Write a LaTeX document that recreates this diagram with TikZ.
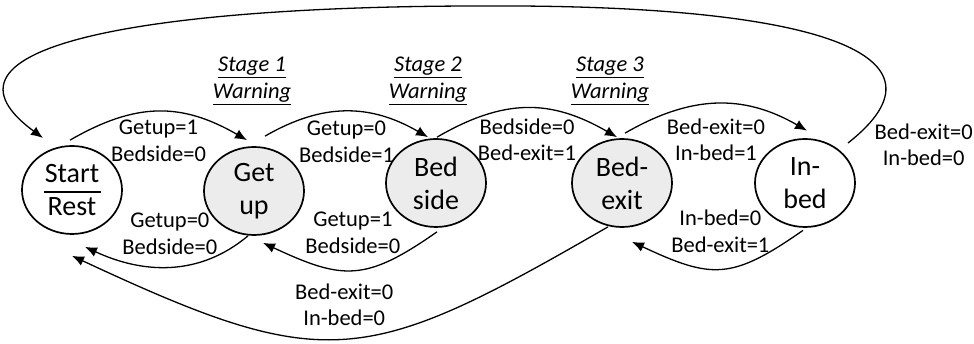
\documentclass[tikz,border=0pt]{standalone}
\usepackage{fontspec}
\setmainfont{Carlito}
\usetikzlibrary{shapes.geometric,arrows.meta}

\begin{document}
\begin{tikzpicture}[x=1pt,y=1pt]
    \tikzstyle{state}=[ellipse, draw, line width=1.7pt, minimum width=100pt, minimum height=88pt, inner sep=0pt, align=center, font=\fontsize{28}{33}\selectfont]
    \tikzstyle{alarm}=[state, fill=gray!15]
    \tikzstyle{cond}=[align=center, inner sep=0pt, font=\fontsize{22.5}{26.5}\selectfont]
    \tikzstyle{stage}=[align=center, inner sep=0pt, font=\itshape\fontsize{22.5}{27}\selectfont]
    \tikzstyle{trans}=[line width=1.3pt, -{Latex[length=12pt,width=10pt]}]
    \useasboundingbox (0,0) rectangle (974,344);

    % states
    \node[state] (start)   at (72, 154)  {Start\\Rest};
    \node[alarm] (getup)   at (254, 153) {Get\\up};
    \node[alarm] (bedside) at (436, 161) {Bed\\side};
    \node[alarm] (bedexit) at (622, 161) {Bed-\\exit};
    \node[state] (inbed)   at (805, 161) {In-\\bed};
    \draw[line width=1.7pt] ([shift={(-28,-2)}]start.center) -- ([shift={(29,-2)}]start.center);

    % warning stages
    \node[stage] (stage1) at (252, 263) {\underline{Stage 1}\\\underline{Warning}};
    \node[stage] (stage2) at (428, 263) {\underline{Stage 2}\\\underline{Warning}};
    \node[stage] (stage3) at (610, 263) {\underline{Stage 3}\\\underline{Warning}};

    % transitions
    \draw[trans] ([shift={(-2,5)}]start.north) to[out=30, in=150, looseness=1.1]
        node[cond, midway, below=8pt] {Getup=1\\Bedside=0} ([shift={(-7,6)}]getup.north);
    \draw[trans] ([shift={(-6,0)}]getup.south) to[out=-140, in=-25, looseness=1.0]
        node[cond, midway, above=12pt] {Getup=0\\Bedside=0} ([shift={(13,-12)}]start.south);
    \draw[trans] ([shift={(11,10)}]getup.north) to[out=30, in=150, looseness=1.05]
        node[cond, midway, below=9pt] {Getup=0\\Bedside=1} ([shift={(-8,1)}]bedside.north);
    \draw[trans] ([shift={(1,-4)}]bedside.south) to[out=-145, in=-25, looseness=1.29]
        node[cond, midway, above=16pt] {Getup=1\\Bedside=0} ([shift={(9,-7)}]getup.south);
    \draw[trans] ([shift={(1,1)}]bedside.north) to[out=30, in=150, looseness=1.1]
        node[cond, midway, below=10pt] {Bedside=0\\Bed-exit=1} ([shift={(-5,1)}]bedexit.north);
    \draw[trans] ([shift={(3,5)}]bedexit.north) to[out=30, in=150, looseness=1.05]
        node[cond, midway, below=14pt] {Bed-exit=0\\In-bed=1} ([shift={(2,7.5)}]inbed.north);
    \draw[trans] ([shift={(-2,-2.5)}]inbed.south) to[out=-145, in=-25, looseness=1.31]
        node[cond, midway, above=16pt] {In-bed=0\\Bed-exit=1} ([shift={(10,-14)}]bedexit.south);
    \draw[trans] ([shift={(43,40)}]inbed.center)
        node[cond, right=26pt, yshift=-2pt] {Bed-exit=0\\In-bed=0}
        .. controls (960,289) and (820,340) .. (480,338)
        .. controls (180,338) and (-90,304) .. ([shift={(-29,52)}]start.center);
    \draw[trans] ([shift={(-14,1)}]bedexit.south) to[out=-150, in=-25, looseness=1.34]
        node[cond, midway, above=12pt] {Bed-exit=0\\In-bed=0} ([yshift=-21pt]start.south);
\end{tikzpicture}
\end{document}
